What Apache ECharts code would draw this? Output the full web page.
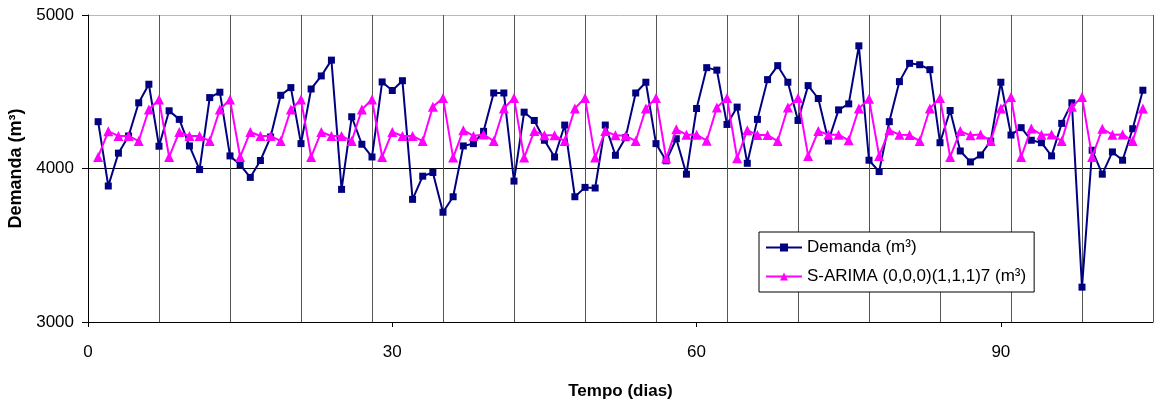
<!DOCTYPE html>
<html>
<head>
<meta charset="utf-8">
<script src="https://cdn.jsdelivr.net/npm/echarts@6/dist/echarts.min.js"></script>
<style>
html,body{margin:0;padding:0;background:#fff;}
#chart{width:1154px;height:403px;}
</style>
</head>
<body>
<div id="chart"></div>
<script>
var days = [1,2,3,4,5,6,7,8,9,10,11,12,13,14,15,16,17,18,19,20,21,22,23,24,25,26,27,28,29,30,31,32,33,34,35,36,37,38,39,40,41,42,43,44,45,46,47,48,49,50,51,52,53,54,55,56,57,58,59,60,61,62,63,64,65,66,67,68,69,70,71,72,73,74,75,76,77,78,79,80,81,82,83,84,85,86,87,88,89,90,91,92,93,94,95,96,97,98,99,100,101,102,103,104];

var demanda = [4305,3886,4100,4212,4428,4549,4145,4376,4320,4147,3993,4462,4497,4082,4024,3942,4052,4205,4477,4527,4162,4518,4603,4706,3864,4337,4158,4075,4564,4508,4572,3799,3950,3974,3715,3816,4147,4162,4242,4492,4492,3918,4367,4313,4184,4075,4283,3816,3877,3873,4283,4086,4201,4492,4562,4162,4050,4194,3963,4391,4657,4641,4287,4400,4034,4320,4579,4670,4562,4313,4540,4456,4179,4382,4421,4799,4054,3980,4305,4566,4685,4676,4644,4168,4378,4114,4043,4088,4179,4562,4218,4266,4184,4168,4082,4294,4428,3227,4119,3963,4108,4054,4259,4510];

var sarima = [4075,4242,4212,4212,4179,4384,4449,4075,4238,4212,4212,4179,4384,4449,4075,4238,4212,4212,4179,4384,4449,4075,4238,4212,4212,4179,4384,4449,4075,4238,4212,4212,4179,4402,4460,4071,4250,4212,4222,4179,4391,4460,4071,4244,4216,4216,4179,4391,4460,4071,4244,4216,4214,4179,4391,4460,4067,4255,4220,4220,4181,4397,4460,4067,4250,4218,4218,4179,4397,4460,4082,4244,4220,4220,4184,4391,4454,4082,4250,4220,4218,4179,4391,4460,4075,4244,4216,4222,4179,4391,4466,4075,4261,4220,4222,4179,4402,4466,4075,4259,4220,4222,4179,4391];

var xTickLabels = [0, 30, 60, 90];
var yTickLabels = [3000, 4000, 5000];

var seriesNames = ['Demanda (m³)', 'S-ARIMA (0,0,0)(1,1,1)7 (m³)'];

function pairs(xs, ys) {
  var out = [];
  for (var i = 0; i < xs.length; i++) out.push([xs[i], ys[i]]);
  return out;
}

var FONT = '"Liberation Sans", Arial, sans-serif';

var chart = echarts.init(document.getElementById('chart'), null, {renderer: 'canvas'});
chart.setOption({
  animation: false,
  backgroundColor: '#fff',
  textStyle: {fontFamily: FONT, color: '#000'},
  grid: {left: 88, right: 1, top: 15, bottom: 81, containLabel: false, outerBoundsMode: 'none'},
  legend: {
    orient: 'vertical',
    left: 759,
    top: 232,
    padding: [6, 8, 6, 6],
    itemGap: 10,
    itemWidth: 36,
    itemHeight: 10,
    backgroundColor: '#fff',
    borderColor: '#000',
    borderWidth: 1,
    borderRadius: 0,
    textStyle: {fontFamily: FONT, fontSize: 17, color: '#000', lineHeight: 19},
    data: seriesNames
  },
  xAxis: [
    {
      type: 'value',
      min: 0,
      max: 105,
      interval: 7,
      axisLine: {show: false},
      axisTick: {show: false},
      axisLabel: {show: false},
      splitLine: {show: true, lineStyle: {color: '#555', width: 1}}
    },
    {
      type: 'value',
      position: 'bottom',
      min: 0,
      max: 105,
      interval: 30,
      name: 'Tempo (dias)',
      nameLocation: 'middle',
      nameGap: 61,
      nameTextStyle: {fontFamily: FONT, fontSize: 17, fontWeight: 'bold', color: '#000'},
      axisLine: {show: true, onZero: false, lineStyle: {color: '#000', width: 1}},
      axisTick: {show: true, length: 5, inside: false, customValues: xTickLabels, lineStyle: {color: '#000'}},
      axisLabel: {show: true, margin: 22, fontSize: 17, color: '#000', fontFamily: FONT, customValues: xTickLabels},
      splitLine: {show: false}
    }
  ],
  yAxis: {
    type: 'value',
    min: 3000,
    max: 5000,
    interval: 1000,
    name: 'Demanda (m³)',
    nameLocation: 'middle',
    nameGap: 52,
    nameRotate: 90,
    nameTextStyle: {fontFamily: FONT, fontSize: 18, fontWeight: 'bold', color: '#000'},
    axisLine: {show: true, lineStyle: {color: '#000', width: 1}},
    axisTick: {show: true, length: 6, inside: false, lineStyle: {color: '#000'}},
    axisLabel: {margin: 14, fontSize: 17, color: '#000', fontFamily: FONT, formatter: function (v) { return String(v); }},
    splitLine: {show: true, lineStyle: {color: ['#000', '#000', '#b8b8b8'], width: 1}}
  },
  series: [
    {
      name: seriesNames[0],
      type: 'line',
      xAxisIndex: 0,
      data: pairs(days, demanda),
      symbol: 'rect',
      symbolSize: 7,
      itemStyle: {color: '#000080'},
      lineStyle: {color: '#000080', width: 2},
      z: 3
    },
    {
      name: seriesNames[1],
      type: 'line',
      xAxisIndex: 0,
      data: pairs(days, sarima),
      symbol: 'triangle',
      symbolSize: 10,
      itemStyle: {color: '#ff00ff'},
      lineStyle: {color: '#ff00ff', width: 2},
      z: 4
    }
  ]
});
</script>
</body>
</html>
